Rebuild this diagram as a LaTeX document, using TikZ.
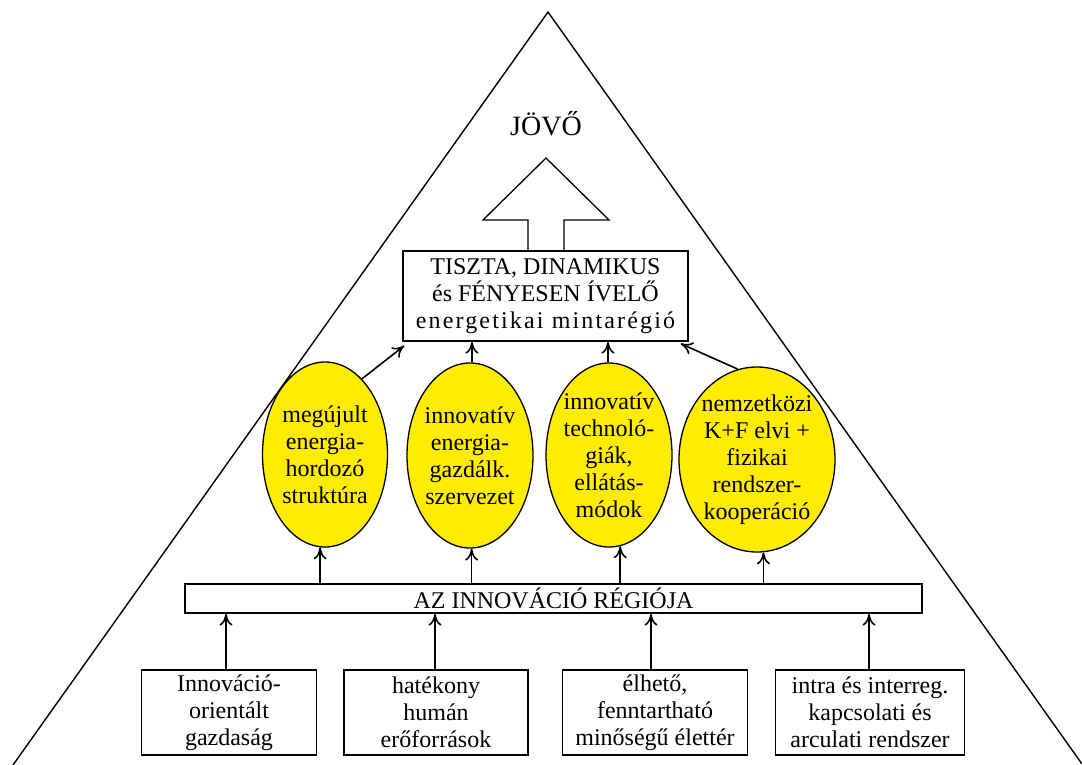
\documentclass[tikz,border=0pt]{standalone}
\usepackage{fontspec}
\setmainfont{Liberation Serif}
\usetikzlibrary{shapes.geometric,arrows.meta,calc}
\definecolor{ellyellow}{RGB}{255,236,0}
\begin{document}
\begin{tikzpicture}[x=1pt,y=-1pt,
  txt/.style={font=\fontsize{24}{27}\selectfont, align=center},
  box/.style={draw, line width=1.3pt, txt, inner sep=0pt},
  ell/.style={ellipse, draw, line width=1.3pt, fill=ellyellow, txt, inner sep=-2pt},
  arr/.style={line width=1.6pt, -{To[length=12pt,width=13pt]}},
  ]
\useasboundingbox (0,0) rectangle (1082,765);
\fill[white] (0,0) rectangle (1082,765);
% pyramid
\draw[line width=1.4pt] (13,765) -- (548,12) -- (1082,764);
\node[font=\fontsize{28}{30}\selectfont] (future) at (546,124) {JÖVŐ};
% top box
\node[box, minimum width=285, minimum height=90] (top) at (545.5,296)
  {TISZTA, DINAMIKUS\\és FÉNYESEN ÍVELŐ\\{\addfontfeatures{LetterSpace=9}energetikai mintarégió}};
% big hollow arrow
\draw[line width=1.3pt] (528,251) -- (528,220) -- (483,220) -- (546,158) -- (609,220) -- (564,220) -- (564,251);
% ellipses
\node[ell, minimum width=125, minimum height=185] (e1) at (325,454.5) {megújult\\energia-\\hordozó\\struktúra};
\node[ell, minimum width=126, minimum height=185] (e2) at (470,455.5) {innovatív\\energia-\\gazdálk.\\szervezet};
\node[ell, minimum width=126, minimum height=184] (e3) at (609,455) {innovatív\\technoló-\\giák,\\ellátás-\\módok};
\node[ell, minimum width=156, minimum height=185] (e4) at (757,459.5) {nemzetközi\\K+F elvi +\\fizikai\\rendszer-\\kooperáció};
% region bar
\node[box, minimum width=737, minimum height=29] (bar) at (553.5,598.5) {AZ INNOVÁCIÓ RÉGIÓJA};
% bottom boxes
\node[box, minimum width=175, minimum height=85] (b1) at (229,712.5) {Innováció-\\orientált\\gazdaság};
\node[box, minimum width=184, minimum height=85] (b2) at (436,712.5) {hatékony\\humán\\erőforrások};
\node[box, minimum width=185, minimum height=85] (b3) at (655,712.5) {élhető,\\fenntartható\\minőségű élettér};
\node[box, minimum width=189, minimum height=85] (b4) at (870,712.5) {intra és interreg.\\kapcsolati és\\arculati rendszer};
% arrows bottom -> bar
\draw[arr] ([xshift=-3]b1.north) -- ([xshift=-3]b1.north |- bar.south);
\draw[arr] ([xshift=-1]b2.north) -- ([xshift=-1]b2.north |- bar.south);
\draw[arr] ([xshift=-4]b3.north) -- ([xshift=-4]b3.north |- bar.south);
\draw[arr] ([xshift=-1]b4.north) -- ([xshift=-1]b4.north |- bar.south);
% arrows bar -> ellipses
\draw[arr] (bar.north -| e1.-93) -- (e1.-93);
\draw[arr] (bar.north -| e2.-89) -- (e2.-89);
\draw[arr] (bar.north -| e3.-83) -- (e3.-83);
\draw[arr] (bar.north -| e4.-86) -- (e4.-86);
% arrows ellipses -> top box
\draw[arr] (e1.64) -- ([shift={(2,4)}]top.south west);
\draw[arr] ([xshift=2]e2.north) -- ([xshift=2]e2.north |- top.south);
\draw[arr] ([xshift=-1]e3.north) -- ([xshift=-1]e3.north |- top.south);
\draw[arr] (e4.102) -- ([shift={(-8,2)}]top.south east);
\end{tikzpicture}
\end{document}
